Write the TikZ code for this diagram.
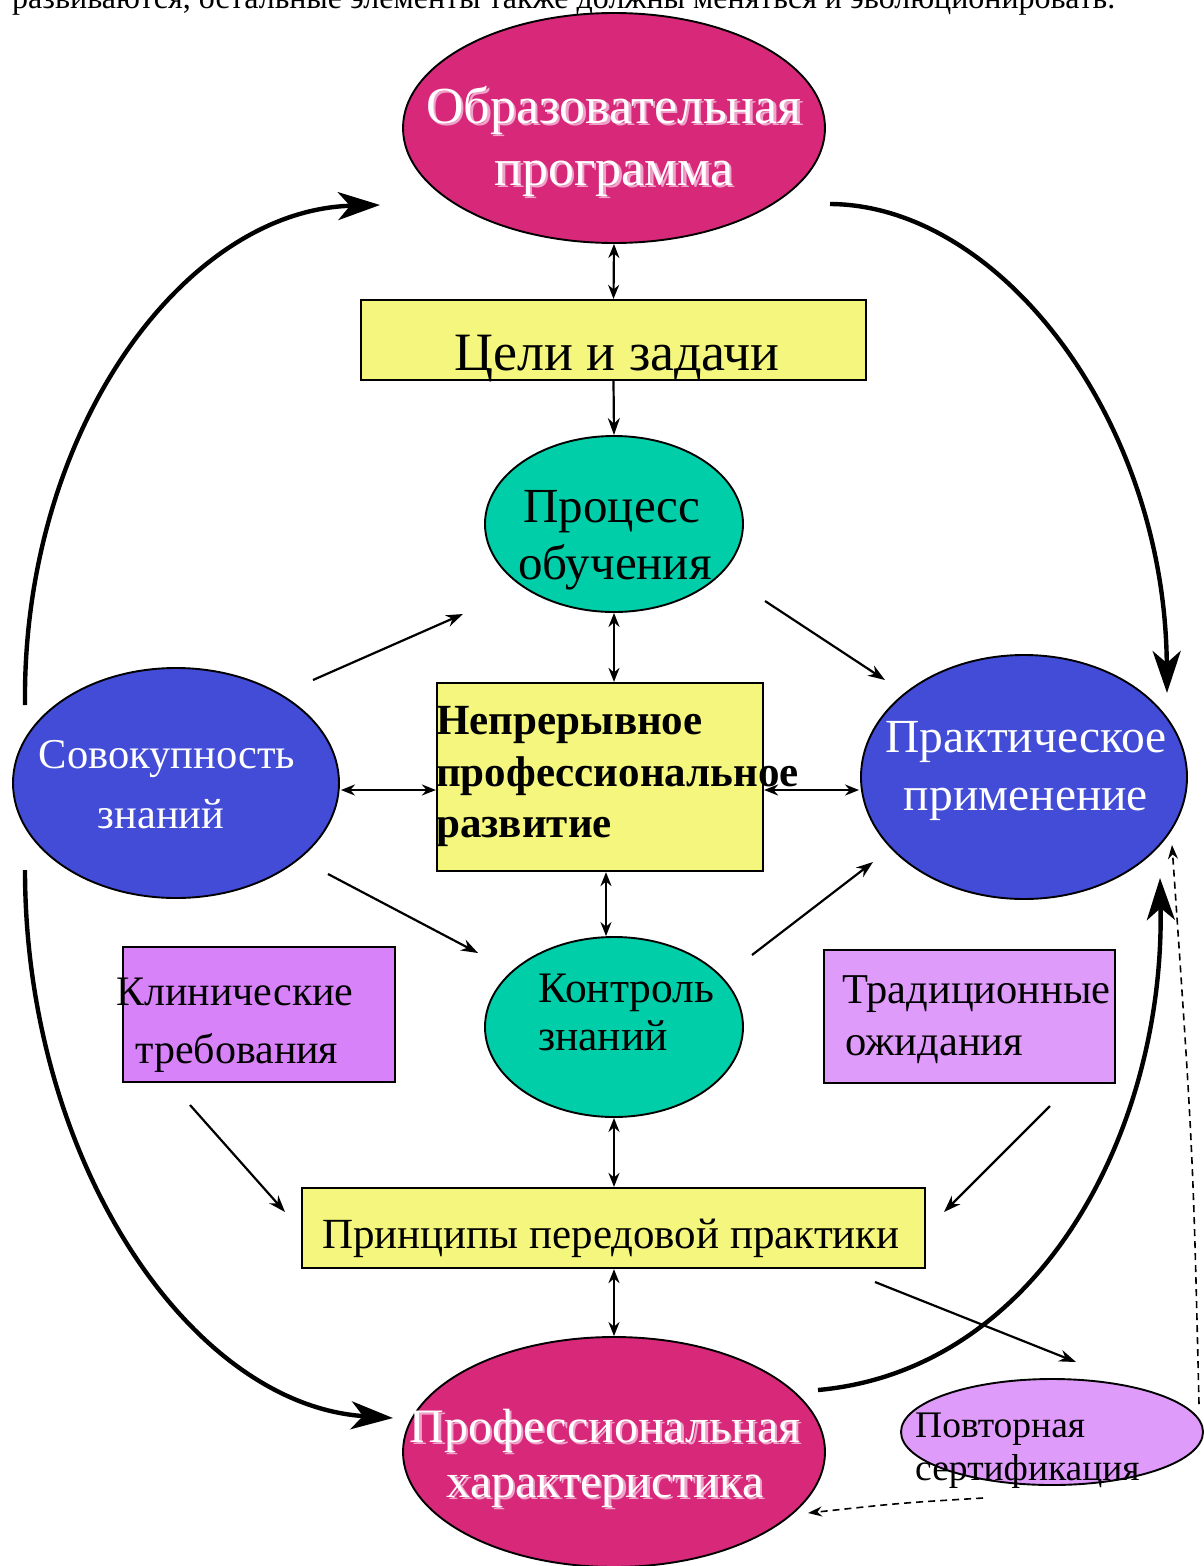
\documentclass[tikz,border=0pt]{standalone}
\usepackage{fontspec}
\setmainfont{Liberation Serif}
\usetikzlibrary{shapes.geometric,arrows.meta,calc}
\definecolor{mag}{HTML}{D7287A}
\definecolor{shpink}{HTML}{EFA3CB}
\definecolor{tealc}{HTML}{00CEA8}
\definecolor{bluec}{HTML}{424CD6}
\definecolor{yelc}{HTML}{F4F67E}
\definecolor{purA}{HTML}{D882FA}
\definecolor{purB}{HTML}{DF9BFA}
\newcommand\myfs[1]{\fontsize{#1}{#1}\selectfont}
\newcommand\shtxt[1]{\rlap{\kern2.5pt\raisebox{-2.5pt}{\textcolor{shpink}{#1}}}\textcolor{white}{#1}}
\tikzset{
  ell/.style={ellipse, draw=black, line width=1.9pt, inner sep=0pt},
  box/.style={rectangle, draw=black, line width=2.2pt, inner sep=0pt},
  txt/.style={inner sep=0pt, anchor=base},
  txtl/.style={inner sep=0pt, anchor=base west},
  thinar/.style={line width=2.2pt, -{Stealth[length=17pt,width=12pt]}},
  dbl/.style={line width=2.2pt, {Stealth[length=14pt,width=11pt]}-{Stealth[length=14pt,width=11pt]}},
  thickar/.style={line width=4.4pt, -{Stealth[length=42pt,width=28pt,inset=12pt]}},
  dsh/.style={line width=1.6pt, dash pattern=on 7pt off 5pt, -{Stealth[length=14pt,width=10pt]}}
}
\begin{document}
\begin{tikzpicture}[x=1pt,y=-1pt]
\useasboundingbox (0,0) rectangle (1203,1566);
\fill[white] (0,0) rectangle (1203,1566);
% partial line of text at the top (cut off in the reference)
\node[txtl,font=\myfs{32}] (note) at (12,8) {развиваются, остальные элементы также должны меняться и эволюционировать.};

% shapes
\node[ell, fill=mag, minimum width=422pt, minimum height=230pt] (obr) at (614,128) {};
\node[box, fill=yelc, minimum width=505pt, minimum height=80pt] (goals) at (613.5,340) {};
\node[ell, fill=tealc, minimum width=258pt, minimum height=176pt] (proc) at (614,524) {};
\node[box, fill=yelc, minimum width=326pt, minimum height=188pt] (npr) at (600,777) {};
\node[ell, fill=tealc, minimum width=258pt, minimum height=180pt] (kn) at (614,1027) {};
\node[box, fill=yelc, minimum width=623pt, minimum height=80pt] (pr) at (613.5,1228) {};
\node[ell, fill=mag, minimum width=422pt, minimum height=230pt] (pch) at (614,1452) {};
\node[ell, fill=bluec, minimum width=326pt, minimum height=230pt] (sov) at (176,783) {};
\node[ell, fill=bluec, minimum width=326pt, minimum height=244pt] (prak) at (1024,777) {};
\node[box, fill=purA, minimum width=272pt, minimum height=135pt] (klin) at (259,1014.5) {};
\node[box, fill=purB, minimum width=291pt, minimum height=133pt] (trad) at (969.5,1016.5) {};
\node[ell, fill=purB, minimum width=302pt, minimum height=106pt] (rep) at (1052,1432) {};

% texts
\node[txt,font=\myfs{52}] (obr1) at (614,123) {\shtxt{Образовательная}};
\node[txt,font=\myfs{52}] (obr2) at (614,185) {\shtxt{программа}};
\node[txt,font=\myfs{54}] (goalsT) at (617,370) {Цели и задачи};
\node[txt,font=\myfs{49}] (proc1) at (612,522) {Процесс};
\node[txt,font=\myfs{49}] (proc2) at (615,579) {обучения};
\node[txtl,font=\bfseries\myfs{43}] (npr1) at (436,734) {Непрерывное};
\node[txtl,font=\bfseries\myfs{43}] (npr2) at (436,786) {профессиональное};
\node[txtl,font=\bfseries\myfs{43}] (npr3) at (436,837) {развитие};
\node[txtl,font=\myfs{43.5}] (kn1) at (538,1002) {Контроль};
\node[txtl,font=\myfs{43.5}] (kn2) at (538,1050) {знаний};
\node[txtl,font=\myfs{43}] (prT) at (322,1248) {Принципы передовой практики};
\node[txt,font=\myfs{48}] (pch1) at (605,1442) {\shtxt{Профессиональная}};
\node[txt,font=\myfs{48}] (pch2) at (605,1497) {\shtxt{характеристика}};
\node[txt,font=\myfs{42.5},text=white] (sov1) at (167,768) {Совокупность};
\node[txt,font=\myfs{42.5},text=white] (sov2) at (161,828) {знаний};
\node[txt,font=\myfs{47.5},text=white] (prak1) at (1026,752) {Практическое};
\node[txt,font=\myfs{47.5},text=white] (prak2) at (1026,810) {применение};
\node[txtl,font=\myfs{42}] (klin1) at (116,1005) {Клинические};
\node[txtl,font=\myfs{42}] (klin2) at (135,1063) {требования};
\node[txtl,font=\myfs{42.5}] (trad1) at (842,1003) {Традиционные};
\node[txtl,font=\myfs{42.5}] (trad2) at (845,1055) {ожидания};
\node[txtl,font=\myfs{37.5}] (rep1) at (915,1437) {Повторная};
\node[txtl,font=\myfs{37.5}] (rep2) at (915,1480) {сертификация};

% vertical / horizontal connectors
\draw[dbl] (obr.south) -- (goals.north);
\draw[thinar] (goals.south) -- (proc.north);
\draw[dbl] (proc.south) -- (proc.south |- npr.north);
\coordinate (nk) at ($(npr.south)+(6,0)$);
\draw[dbl] (nk) -- (nk |- kn.north);
\draw[dbl] (kn.south) -- (kn.south |- pr.north);
\draw[dbl] (pr.south -| pch.north) -- (pch.north);
\coordinate (h1) at ($(sov.east)+(1,7)$);
\draw[dbl] (h1) -- (h1 -| npr.west);
\coordinate (h2) at ($(prak.west)+(-1,13)$);
\draw[dbl] (h2 -| npr.east) -- (h2);

% diagonal connectors
\coordinate (a1s) at (313,680); \coordinate (a1e) at (463,614);
\coordinate (a2s) at (765,601); \coordinate (a2e) at (885,680);
\coordinate (a3s) at (328,874); \coordinate (a3e) at (478,953);
\coordinate (a4s) at (752,955); \coordinate (a4e) at (873,862);
\coordinate (a5s) at (190,1105); \coordinate (a5e) at (285,1212);
\coordinate (a6s) at (1050,1106); \coordinate (a6e) at (944,1212);
\coordinate (a7s) at (875,1282); \coordinate (a7e) at (1076,1362);
\draw[thinar] (a1s) -- (a1e);
\draw[thinar] (a2s) -- (a2e);
\draw[thinar] (a3s) -- (a3e);
\draw[thinar] (a4s) -- (a4e);
\draw[thinar] (a5s) -- (a5e);
\draw[thinar] (a6s) -- (a6e);
\draw[thinar] (a7s) -- (a7e);

% big curved arrows
\coordinate (c1s) at (25,705);  \coordinate (c1e) at (380,205);
\coordinate (c2s) at (830,204); \coordinate (c2e) at (1167,693);
\coordinate (c3s) at (25,870);  \coordinate (c3e) at (393,1418);
\coordinate (c4s) at (818,1390);\coordinate (c4e) at (1160,878);
\draw[thickar] (c1s) .. controls (22,430) and (185,210) .. (c1e);
\draw[thickar] (c2s) .. controls (1000,205) and (1165,420) .. (c2e);
\draw[thickar] (c3s) .. controls (25,1160) and (190,1405) .. (c3e);
\draw[thickar] (c4s) .. controls (1040,1370) and (1165,1130) .. (c4e);

% dashed arrows
\coordinate (d1s) at (983,1498); \coordinate (d1e) at (808,1513);
\coordinate (d2s) at (1199,1404); \coordinate (d2e) at (1172,845);
\draw[dsh] (d1s) .. controls (900,1503) .. (d1e);
\draw[dsh] (d2s) .. controls (1193,1150) .. (d2e);
\end{tikzpicture}
\end{document}
